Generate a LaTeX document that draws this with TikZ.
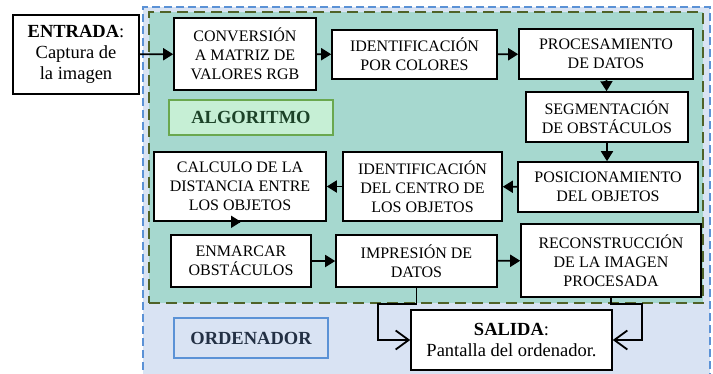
\documentclass[tikz,border=0pt]{standalone}
\usepackage{fontspec}
\setmainfont{Liberation Serif}
\usetikzlibrary{arrows.meta,positioning}
\definecolor{pcblue}{RGB}{217,227,243}
\definecolor{pcedge}{RGB}{91,146,214}
\definecolor{pctext}{RGB}{35,48,68}
\definecolor{algteal}{RGB}{166,216,207}
\definecolor{algolive}{RGB}{79,98,40}
\definecolor{alggreen}{RGB}{198,239,213}
\definecolor{algedge}{RGB}{106,168,79}
\definecolor{algtext}{RGB}{28,66,40}

\begin{document}
\begin{tikzpicture}[x=1pt, y=-1pt,
  stage/.style={draw, line width=1.6pt, fill=white, inner sep=0pt,
    font=\fontsize{16}{19}\selectfont, align=center},
  io/.style={stage, font=\fontsize{18.5}{21}\selectfont},
  tag/.style={line width=1.4pt, inner sep=0pt,
    font=\fontsize{18.5}{21}\selectfont\bfseries},
  arr/.style={-{Triangle[length=10pt, width=12pt]}, line width=1.8pt},
  outarr/.style={-{Straight Barb[length=13pt, width=19pt]}, line width=1.8pt}]
\useasboundingbox (0,0) rectangle (713,373);
% Frames: ordenador and algoritmo
\node[draw=pcedge, fill=pcblue, line width=2pt, dash pattern=on 8pt off 4pt,
  minimum width=567, minimum height=383] (pc) at (426.5,198.5) {};
\node[draw=algolive, fill=algteal, line width=2.4pt, dash pattern=on 11pt off 6pt,
  minimum width=554, minimum height=291] (alg) at (426,157.5) {};
\node[tag, draw=algedge, fill=alggreen, text=algtext, minimum width=164, minimum height=35] (algtag) at (251,117.5) {ALGORITMO};
\node[tag, draw=pcedge, fill=pcblue, text=pctext, minimum width=154, minimum height=40] (pctag) at (251,338) {ORDENADOR};
% Input
\node[io, minimum width=126, minimum height=79] (entrada) at (76,54.5) {\textbf{ENTRADA}:\\Captura de\\la imagen};
% Top row
\node[stage, minimum width=142, minimum height=72] (conv) at (245,54) {CONVERSIÓN\\A MATRIZ DE\\VALORES RGB};
\node[stage, minimum width=165, minimum height=49] (color) at (414.5,54.5) {IDENTIFICACIÓN\\POR COLORES};
\node[stage, minimum width=174, minimum height=50] (proc) at (606,54) {PROCESAMIENTO\\DE DATOS};
% Right column
\node[stage, minimum width=162, minimum height=50] (segm) at (607,117) {SEGMENTACIÓN\\DE OBSTÁCULOS};
\node[stage, minimum width=180, minimum height=50] (posic) at (608,187) {POSICIONAMIENTO\\DEL OBJETOS};
% Middle row
\node[stage, minimum width=159, minimum height=69] (centro) at (422.5,186.5) {IDENTIFICACIÓN\\DEL CENTRO DE\\LOS OBJETOS};
\node[stage, minimum width=172, minimum height=69] (calc) at (240,186.5) {CALCULO DE LA\\DISTANCIA ENTRE\\LOS OBJETOS};
% Bottom row
\node[stage, minimum width=140, minimum height=52] (marco) at (241,261) {ENMARCAR\\OBSTÁCULOS};
\node[stage, minimum width=161, minimum height=52] (impr) at (416.5,261) {IMPRESIÓN DE\\DATOS};
\node[stage, minimum width=180, minimum height=73] (recon) at (611,260.5) {RECONSTRUCCIÓN\\DE LA IMAGEN\\PROCESADA};
% Output
\node[io, minimum width=201, minimum height=60] (salida) at (511.5,340) {\textbf{SALIDA}:\\Pantalla del ordenador.};
\coordinate (lbend) at (378,304);
\coordinate (rbend) at (642,304);
% Flow
\draw[arr] (entrada) -- (conv);
\draw[arr] (conv) -- (color);
\draw[arr] (color) -- (proc);
\draw[arr] (proc) -- (segm);
\draw[arr] (segm.south) -- (segm.south |- posic.north);
\draw[arr] (posic) -- (centro);
\draw[arr] (centro) -- (calc);
\draw[arr] (calc.south) -- (calc.south -| marco.north);
\draw[arr] (marco) -- (impr);
\draw[arr] (impr) -- (recon);
\draw[outarr] (impr.south) |- (lbend) |- (salida.west);
\draw[outarr] (recon.south) |- (rbend) |- (salida.east);
\end{tikzpicture}
\end{document}
